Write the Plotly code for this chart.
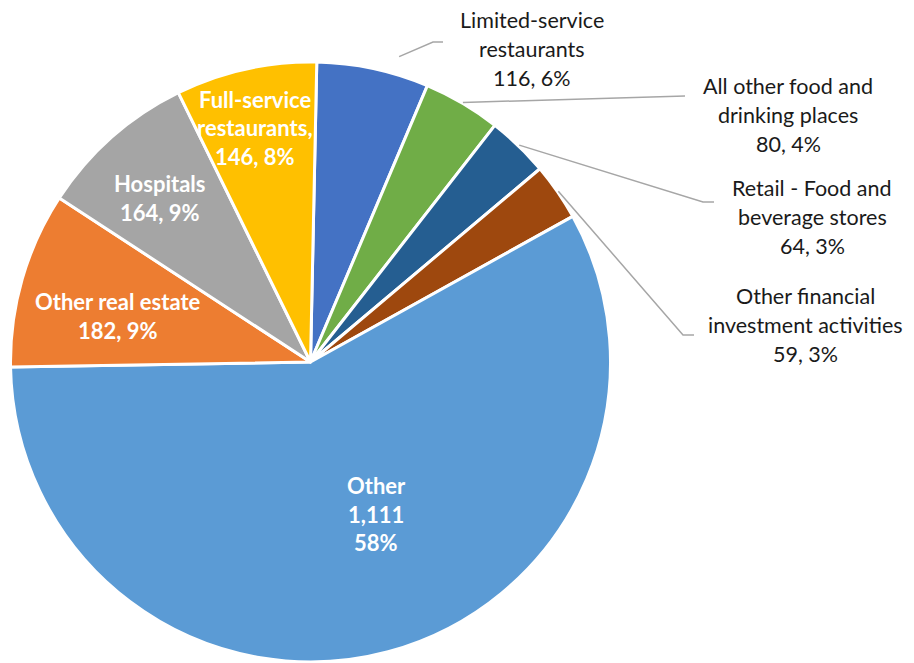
import math
import plotly.graph_objects as go

# Employment by industry
categories = [
    "Limited-service restaurants",
    "All other food and drinking places",
    "Retail - Food and beverage stores",
    "Other financial investment activities",
    "Other",
    "Other real estate",
    "Hospitals",
    "Full-service restaurants",
]
values = [116, 80, 64, 59, 1111, 182, 164, 146]
colors = ["#4472C4", "#70AD47", "#255E91", "#9E480E",
          "#5B9BD5", "#ED7D31", "#A5A5A5", "#FFC000"]

# How each category name is wrapped in its label
name_lines = {
    "Limited-service restaurants": ["Limited-service", "restaurants"],
    "All other food and drinking places": ["All other food and", "drinking places"],
    "Retail - Food and beverage stores": ["Retail - Food and", "beverage stores"],
    "Other financial investment activities": ["Other financial", "investment activities"],
    "Other": ["Other"],
    "Other real estate": ["Other real estate"],
    "Hospitals": ["Hospitals"],
    "Full-service restaurants": ["Full-service", "restaurants,"],
}
inside = {"Other", "Other real estate", "Hospitals", "Full-service restaurants"}

# ---- layout geometry (pixels) ----
W, H = 914, 663
CX, CY, R = 310.5, 362.0, 300.0
ROTATION = 1.2
LINE_H = 28.7
FONT = "Lato"
FS_OUT = 21.5
FS_IN = 22

# label centre per category
label_pos = {
    "Limited-service restaurants": (532, 49),
    "All other food and drinking places": (788, 115),
    "Retail - Food and beverage stores": (812, 217),
    "Other financial investment activities": (805, 325),
    "Other": (376, 514),
    "Other real estate": (118, 316),
    "Hospitals": (160, 198),
    "Full-service restaurants": (255, 128),
}
# leader-line vertices after the slice edge point, and gap from the edge
leader = {
    "Limited-service restaurants": ([(433, 42), (443, 42)], 28),
    "All other food and drinking places": ([(685, 96)], 0),
    "Retail - Food and beverage stores": ([(703, 202), (714, 202)], 0),
    "Other financial investment activities": ([(683, 335), (694, 335)], 0),
}


def px(x):
    return x / W


def py(y):
    return 1 - y / H


total = sum(values)
pcts = [round(v / total * 100) for v in values]

fig = go.Figure(go.Pie(
    labels=categories,
    values=values,
    sort=False,
    direction="clockwise",
    rotation=ROTATION,
    marker=dict(colors=colors, line=dict(color="white", width=3)),
    textinfo="none",
    hoverinfo="label+value+percent",
    showlegend=False,
    domain=dict(x=[px(CX - R), px(CX + R)], y=[py(CY + R), py(CY - R)]),
))

annotations = []
shapes = []
cum = 0.0
for cat, v, p in zip(categories, values, pcts):
    mid = math.radians(ROTATION + (cum + v / 2) / total * 360)
    cum += v
    if cat == "Other":
        lines = ["Other", f"{v:,}", f"{p}%"]
    else:
        lines = list(name_lines[cat]) + [f"{v:,}, {p}%"]
    is_in = cat in inside
    lx, ly = label_pos[cat]
    n = len(lines)
    for k, t in enumerate(lines):
        yy = ly + (k - (n - 1) / 2) * LINE_H
        annotations.append(dict(
            x=px(lx), y=py(yy), xref="paper", yref="paper",
            text=f"<b>{t}</b>" if is_in else t,
            showarrow=False, xanchor="center", yanchor="middle",
            font=dict(family=FONT, size=FS_IN if is_in else FS_OUT,
                      color="white" if is_in else "#1a1a1a"),
        ))
    if cat in leader:
        pts, gap = leader[cat]
        ex = CX + (R + 1) * math.sin(mid)
        ey = CY - (R + 1) * math.cos(mid)
        if gap:
            dx, dy = pts[0][0] - ex, pts[0][1] - ey
            d = math.hypot(dx, dy)
            ex, ey = ex + dx / d * gap, ey + dy / d * gap
        path = f"M {px(ex)} {py(ey)}" + "".join(
            f" L {px(a)} {py(b)}" for a, b in pts)
        shapes.append(dict(type="path", path=path, xref="paper", yref="paper",
                           line=dict(color="#A6A6A6", width=1.5)))

fig.update_layout(
    width=W, height=H,
    margin=dict(l=0, r=0, t=0, b=0),
    paper_bgcolor="white",
    plot_bgcolor="white",
    annotations=annotations,
    shapes=shapes,
)

fig.write_html("out.html")
